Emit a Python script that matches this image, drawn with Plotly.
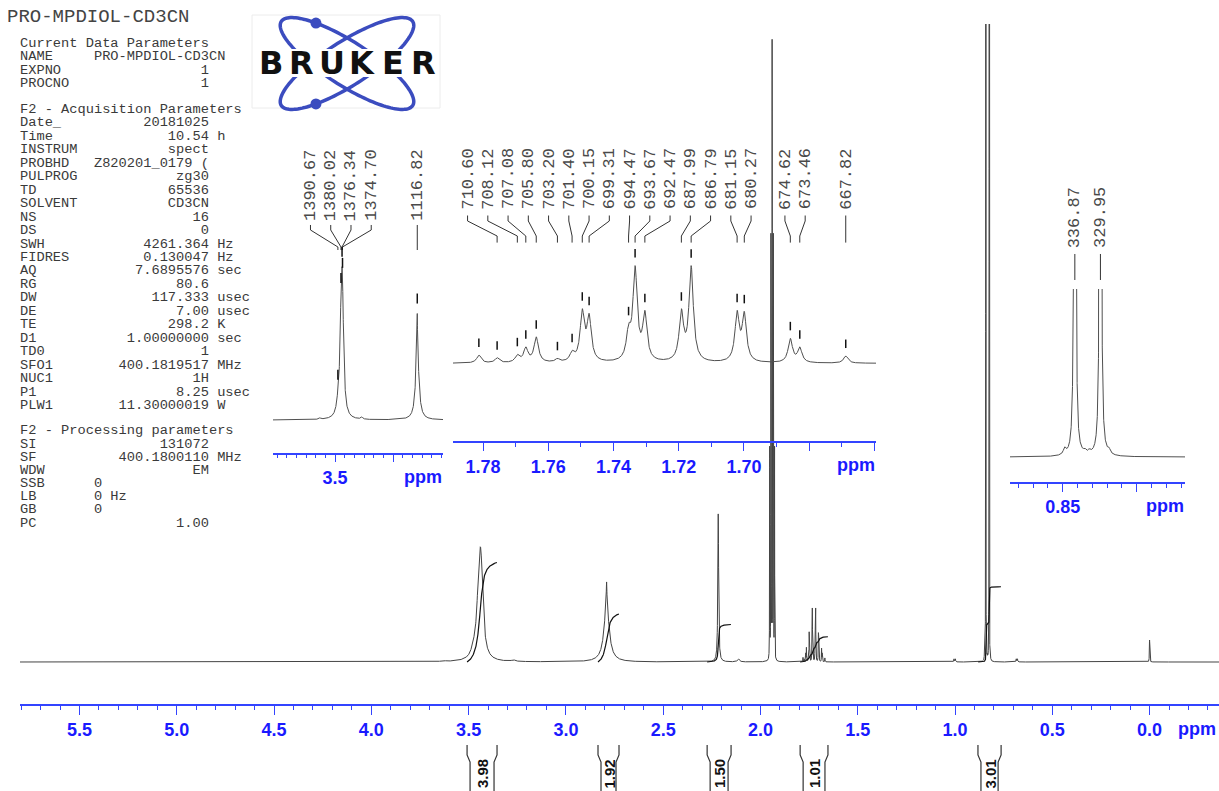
import numpy as np
import plotly.graph_objects as go

W, H = 1219, 791
BLUE = "#1a1aff"
AXBLUE = "#3344ff"
INK = "#3a3a3a"
NB = "\u00a0"

# ---------------- parameter text ----------------
TITLE = "PRO-MPDIOL-CD3CN"
CUR_HEAD = "Current Data Parameters"
CUR_LABELS = ["NAME", "EXPNO", "PROCNO"]
CUR_VALUES = ["PRO-MPDIOL-CD3CN", "1", "1"]
CUR_UNITS = ["", "", ""]
CUR_LEFT = [True, False, False]

ACQ_HEAD = "F2 - Acquisition Parameters"
ACQ_LABELS = ["Date_", "Time", "INSTRUM", "PROBHD", "PULPROG", "TD", "SOLVENT", "NS", "DS",
              "SWH", "FIDRES", "AQ", "RG", "DW", "DE", "TE", "D1", "TD0", "SFO1", "NUC1",
              "P1", "PLW1"]
ACQ_VALUES = ["20181025", "10.54", "spect", "Z820201_0179 (", "zg30", "65536", "CD3CN", "16",
              "0", "4261.364", "0.130047", "7.6895576", "80.6", "117.333", "7.00", "298.2",
              "1.00000000", "1", "400.1819517", "1H", "8.25", "11.30000019"]
ACQ_UNITS = ["", "h", "", "", "", "", "", "", "", "Hz", "Hz", "sec", "", "usec", "usec", "K",
             "sec", "", "MHz", "", "usec", "W"]

PROC_HEAD = "F2 - Processing parameters"
PROC_LABELS = ["SI", "SF", "WDW", "SSB", "LB", "GB", "PC"]
PROC_VALUES = ["131072", "400.1800110", "EM", "0", "0", "0", "1.00"]
PROC_UNITS = ["", "MHz", "", "", "Hz", "", ""]
PROC_LEFT = [False, False, False, True, True, True, False]

# ---------------- spectrum data ----------------
SF_MHZ = 400.18
# expansion A (3.4 / 2.8 ppm): labelled lines (Hz), amplitudes (main px), FWHM (ppm)
PEAKS_A_HZ = [1390.67, 1380.02, 1376.34, 1374.70, 1116.82]
PEAKS_A_AMP = [6, 43, 47.5, 43, 24]
PEAKS_A_FWHM = [0.03, 0.025, 0.025, 0.025, 0.004]

# expansion B (1.7 ppm multiplet): labelled lines (Hz) and observed tops in expansion px
PEAKS_B_HZ = [710.60, 708.12, 707.08, 705.80, 703.20, 701.40, 700.15, 699.31, 694.47, 693.67,
              692.47, 687.99, 686.79, 681.15, 680.27, 674.62, 673.46, 667.82]
PEAKS_B_TOP = [5.6, 9.0, 16.5, 26.5, 5.0, 13.0, 54.6, 50.0, 40.0, 97.7, 53.0, 54.6, 97.7,
               53.0, 52.0, 25.0, 16.5, 7.3]
MULT_EXTRA_PPM = [1.7813]
MULT_EXTRA_TOP = [8.3]
MULT_FWHM = 0.0016

# expansion C (0.84 ppm doublet)
PEAKS_C_HZ = [336.87, 329.95]
PEAKS_C_AMP = [2000, 2000]
PEAKS_C_FWHM = [0.0006, 0.0006]

# other lines of the full spectrum (ppm, amplitude in main px, FWHM ppm)
OTHER_PPM = [3.63, 3.27, 2.7908, 2.217, 2.113, 1.9525, 1.94625, 1.9400, 1.93375, 1.9275,
             1.005, 0.998, 0.8487, 0.8350, 0.8320, 0.8187, 0.685, 0.679, 0.0]
OTHER_AMP = [1.0, 1.5, 56, 148, 3, 210, 420, 614, 420, 210, 3, 3, 6, 3, 3, 4, 3, 3, 22]
OTHER_FWHM = [0.02, 0.02, 0.032, 0.005, 0.012, 0.0012, 0.0012, 0.0012, 0.0012, 0.0012,
              0.003, 0.003, 0.002, 0.002, 0.002, 0.002, 0.003, 0.003, 0.002]

# integrals
INT_VALUES = [3.98, 1.92, 1.50, 1.01, 3.01]
INT_FROM = [3.508, 2.835, 2.274, 1.796, 0.882]
INT_TO = [3.354, 2.727, 2.151, 1.653, 0.763]
INT_PX_PER_UNIT = 25.0

# ---------------- geometry (pixels) ----------------
MAIN = dict(x0=20, x1=W, p0=5.806, p1=-0.357, axis_y=705, base=662, top=24)
INS_A = dict(x0=273, x1=443, p0=4.0345, p1=2.569, axis_y=452.7, base=420, top=130, s=1.33,
             lab_bottom=222, lead=(225, 230, 247, 250), gap=10, mlen=10,
             tickvals=[3.5, 3.0], ticktext=["3.5", ""], mdt=0.5 / 6, mt0=3.0)
INS_B = dict(x0=453, x1=876, p0=1.78923, p1=1.65952, axis_y=441.3, base=363.4, top=130, s=1.81,
             lab_bottom=210.5, lead=(215.5, 221, 236, 242.6), gap=8, mlen=8.5,
             tickvals=[1.78, 1.76, 1.74, 1.72, 1.70, 1.68, 1.66],
             ticktext=["1.78", "1.76", "1.74", "1.72", "1.70", "", ""], mdt=0.01, mt0=0)
INS_C = dict(x0=1010, x1=1185, p0=0.8856, p1=0.76736, axis_y=482, base=457, top=289, s=1.0,
             lab_bottom=249, lead=(254, 259, 275, 280), gap=0, mlen=0,
             tickvals=[0.85, 0.80], ticktext=["0.85", ""], mdt=0.01, mt0=0)


def lor(x, pos, amp, fwhm):
    y = np.zeros_like(x, dtype=float)
    for p, a, w in zip(pos, amp, fwhm):
        g = w / 2.0
        y += a * g * g / ((x - p) ** 2 + g * g)
    return y


def solve_amps(pos, target, fwhm, iters=800):
    pos = np.asarray(pos, float)
    t = np.asarray(target, float)
    g = np.asarray(fwhm, float) / 2
    A = (g[None, :] ** 2) / ((pos[:, None] - pos[None, :]) ** 2 + g[None, :] ** 2)
    a = t.copy()
    for _ in range(iters):
        a = np.clip(a + 0.4 * (t - A @ a), 0, None)
    return a


# assemble all lines
a_ppm = [h / SF_MHZ for h in PEAKS_A_HZ]
b_ppm = [h / SF_MHZ for h in PEAKS_B_HZ]
c_ppm = [h / SF_MHZ for h in PEAKS_C_HZ]
mult_ppm = b_ppm + MULT_EXTRA_PPM
mult_top_main = [v / INS_B["s"] for v in PEAKS_B_TOP + MULT_EXTRA_TOP]
mult_fw = [MULT_FWHM] * len(mult_ppm)
mult_amp = list(solve_amps(mult_ppm, mult_top_main, mult_fw))

ALL_PPM = a_ppm + mult_ppm + c_ppm + OTHER_PPM
ALL_AMP = PEAKS_A_AMP + mult_amp + PEAKS_C_AMP + OTHER_AMP
ALL_FW = PEAKS_A_FWHM + mult_fw + PEAKS_C_FWHM + OTHER_FWHM


def spectrum(x):
    return lor(x, ALL_PPM, ALL_AMP, ALL_FW)


def make_grid(p0, p1, n):
    lo, hi = min(p0, p1), max(p0, p1)
    pts = [np.linspace(lo, hi, n)]
    for c, w in zip(ALL_PPM, ALL_FW):
        half = max(12 * w, 0.01)
        step = w / 8
        k = int(half / step)
        pts.append(c + step * np.arange(-k, k + 1))
    x = np.unique(np.concatenate(pts))
    x = x[(x >= lo) & (x <= hi)]
    return x[::-1]


def ppm2px(geo, p):
    return geo["x0"] + (p - geo["p0"]) / (geo["p1"] - geo["p0"]) * (geo["x1"] - geo["x0"])


def P(x, y):
    return x / W, 1 - y / H


def path_px(points, close=False):
    s = ""
    for i, (x, y) in enumerate(points):
        s += ("M" if i == 0 else "L") + f"{x / W:.5f},{1 - y / H:.5f} "
    return s.strip() + (" Z" if close else "")


def spread(ideal, gap):
    ideal = np.asarray(ideal, float)
    order = np.argsort(ideal)
    clusters = []
    for x in ideal[order]:
        clusters.append([x, 1])
        while len(clusters) > 1:
            s2, n2 = clusters[-1]
            s1, n1 = clusters[-2]
            r1 = s1 / n1 + (n1 - 1) / 2 * gap
            l2 = s2 / n2 - (n2 - 1) / 2 * gap
            if l2 - r1 < gap:
                clusters[-2:] = [[s1 + s2, n1 + n2]]
            else:
                break
    out = []
    for s, n in clusters:
        m = s / n
        out += [m + (k - (n - 1) / 2) * gap for k in range(n)]
    res = np.empty(len(ideal))
    res[order] = out
    return res


fig = go.Figure()
shapes = []
annotations = []

# ---------------- main spectrum ----------------
xm = make_grid(MAIN["p0"], MAIN["p1"], 5000)
ym = spectrum(xm)
fig.add_trace(go.Scatter(x=np.round(xm, 6), y=np.round(ym, 3), mode="lines",
                         line=dict(color="#444444", width=1), xaxis="x", yaxis="y",
                         hoverinfo="skip"))

# integrals
for val, f, t in zip(INT_VALUES, INT_FROM, INT_TO):
    m = (xm <= f) & (xm >= t)
    xs, ys = xm[m], ym[m]
    c = np.concatenate([[0], np.cumsum(0.5 * (ys[1:] + ys[:-1]) * np.abs(np.diff(xs)))])
    c = c / c[-1] * val * INT_PX_PER_UNIT
    fig.add_trace(go.Scatter(x=np.round(xs, 6), y=np.round(c, 3), mode="lines",
                             line=dict(color="#111111", width=1.2), xaxis="x", yaxis="y",
                             hoverinfo="skip"))
    lx, rx = ppm2px(MAIN, f), ppm2px(MAIN, t)
    shapes.append(dict(type="path", xref="paper", yref="paper",
                       path=path_px([(lx, 745), (lx, 755), (lx + 3, 762), (lx + 3, 792)]),
                       line=dict(color="#333", width=1.2)))
    shapes.append(dict(type="path", xref="paper", yref="paper",
                       path=path_px([(rx, 745), (rx, 755), (rx - 3, 762), (rx - 3, 792)]),
                       line=dict(color="#333", width=1.2)))
    x_, y_ = P((lx + rx) / 2, 774)
    annotations.append(dict(x=x_, y=y_, xref="paper", yref="paper", text=f"{val:.2f}",
                            textangle=-90, showarrow=False, xanchor="center", yanchor="middle",
                            borderpad=0,
                            font=dict(family="Liberation Sans", size=15, color="#111",
                                      weight="bold")))

# ---------------- insets ----------------
insets = [(INS_A, a_ppm, PEAKS_A_HZ, a_ppm, "2"),
          (INS_B, b_ppm, PEAKS_B_HZ, mult_ppm, "3"),
          (INS_C, c_ppm, PEAKS_C_HZ, [], "4")]

layout_axes = {}
for geo, lab_ppm, lab_hz, mark_ppm, k in insets:
    xi = make_grid(geo["p0"], geo["p1"], 3000)
    yi = spectrum(xi) * geo["s"]
    fig.add_trace(go.Scatter(x=np.round(xi, 7), y=np.round(yi, 3), mode="lines",
                             line=dict(color="#505050", width=1), xaxis="x" + k, yaxis="y" + k,
                             hoverinfo="skip"))
    layout_axes["xaxis" + k] = dict(
        domain=[geo["x0"] / W, geo["x1"] / W], range=[geo["p0"], geo["p1"]], anchor="y" + k,
        showline=True, linecolor=AXBLUE, linewidth=1.5, ticks="outside", ticklen=8,
        tickwidth=1.3, tickcolor=AXBLUE, tickvals=geo["tickvals"], ticktext=geo["ticktext"],
        tickfont=dict(family="Liberation Sans", size=18, color=BLUE, weight="bold"),
        minor=dict(dtick=geo["mdt"], tick0=geo["mt0"], ticks="outside", ticklen=4,
                   tickcolor=AXBLUE, tickwidth=1),
        showgrid=False, zeroline=False, fixedrange=True)
    layout_axes["yaxis" + k] = dict(
        domain=[1 - geo["axis_y"] / H, 1 - geo["top"] / H],
        range=[-(geo["axis_y"] - geo["base"]), geo["base"] - geo["top"]],
        anchor="x" + k, visible=False, fixedrange=True)
    # "ppm" unit label
    ux, uy = P(geo["x1"] + 1, geo["axis_y"] + 24)
    annotations.append(dict(x=ux, y=uy, xref="paper", yref="paper", text="ppm",
                            showarrow=False, xanchor="right", yanchor="middle",
                            font=dict(family="Liberation Sans", size=18, color=BLUE,
                                      weight="bold")))
    # peak labels with leader lines
    pk_px = np.array([ppm2px(geo, p) for p in lab_ppm])
    lab_px = spread(pk_px, 20.25)
    y0, y1, y2, y3 = geo["lead"]
    for hz, px_, lx in zip(lab_hz, pk_px, lab_px):
        shapes.append(dict(type="path", xref="paper", yref="paper",
                           path=path_px([(lx, y0), (lx, y1), (px_, y2), (px_, y3)]),
                           line=dict(color="#333", width=1)))
        ax_, ay_ = P(lx, geo["lab_bottom"])
        annotations.append(dict(x=ax_, y=ay_, xref="paper", yref="paper", text=f"{hz:.2f}",
                                textangle=-90, showarrow=False, xanchor="center",
                                yanchor="bottom", borderpad=0,
                                font=dict(family="Liberation Mono", size=17, color="#4a4a4a")))
    # peak markers
    for p in mark_ppm:
        v = float(spectrum(np.array([p]))[0]) * geo["s"]
        px_ = ppm2px(geo, p)
        yb = geo["base"] - v - geo["gap"]
        shapes.append(dict(type="line", xref="paper", yref="paper",
                           x0=px_ / W, x1=px_ / W, y0=1 - yb / H, y1=1 - (yb - geo["mlen"]) / H,
                           line=dict(color="#111", width=1.5)))

# main unit label
ux, uy = P(1218, 729)
annotations.append(dict(x=ux, y=uy, xref="paper", yref="paper", text="ppm", showarrow=False,
                        xanchor="right", yanchor="middle",
                        font=dict(family="Liberation Sans", size=18, color=BLUE, weight="bold")))

# ---------------- parameter text ----------------
def param_line(label, value, unit, left):
    if left:
        s = label + NB * (9 - len(label)) + value
    else:
        s = label + NB * max(1, 23 - len(label) - len(value)) + value
    if unit:
        s += NB + unit
    return s


def add_text(x, y, text, size=13.7, color=INK):
    ax_, ay_ = P(x, y)
    annotations.append(dict(x=ax_, y=ay_, xref="paper", yref="paper", text=text,
                            showarrow=False, xanchor="left", yanchor="middle", borderpad=0,
                            font=dict(family="Liberation Mono", size=size, color=color)))


add_text(6, 17, TITLE, size=19, color="#444")
add_text(19, 43, CUR_HEAD)
for i, (l, v, u, lf) in enumerate(zip(CUR_LABELS, CUR_VALUES, CUR_UNITS, CUR_LEFT)):
    add_text(19, 56.5 + 13.5 * i, param_line(l, v, u, lf))
add_text(19, 109.5, ACQ_HEAD)
for i, (l, v, u) in enumerate(zip(ACQ_LABELS, ACQ_VALUES, ACQ_UNITS)):
    add_text(19, 123 + 13.45 * i, param_line(l, v, u, False))
add_text(19, 430.5, PROC_HEAD)
for i, (l, v, u, lf) in enumerate(zip(PROC_LABELS, PROC_VALUES, PROC_UNITS, PROC_LEFT)):
    add_text(19, 444 + 13.2 * i, param_line(l, v, u, lf))

# ---------------- Bruker logo ----------------
LOGO_BLUE = "#3b4cbf"
cx, cy, ea, eb, th = 347, 63.5, 78, 22, np.deg2rad(32.6)
tt = np.linspace(0, 2 * np.pi, 140)
shapes.append(dict(type="rect", xref="paper", yref="paper", x0=252 / W, x1=440 / W,
                   y0=1 - 108 / H, y1=1 - 15 / H, line=dict(color="#ececec", width=1)))
for sgn in (1, -1):
    ang = sgn * th
    ex = cx + ea * np.cos(tt) * np.cos(ang) - eb * np.sin(tt) * np.sin(ang)
    ey = cy + ea * np.cos(tt) * np.sin(ang) + eb * np.sin(tt) * np.cos(ang)
    shapes.append(dict(type="path", xref="paper", yref="paper",
                       path=path_px(list(zip(ex, ey)), close=True),
                       line=dict(color=LOGO_BLUE, width=3.5)))
shapes.append(dict(type="rect", xref="paper", yref="paper", x0=254 / W, x1=439 / W,
                   y0=1 - 77 / H, y1=1 - 49 / H, fillcolor="white", line=dict(width=0)))
t_dot = 4.05
dx = cx + ea * np.cos(t_dot) * np.cos(th) - eb * np.sin(t_dot) * np.sin(th)
dy = cy + ea * np.cos(t_dot) * np.sin(th) + eb * np.sin(t_dot) * np.cos(th)
for (px_, py_) in [(dx, dy), (dx, 2 * cy - dy)]:
    shapes.append(dict(type="circle", xref="paper", yref="paper",
                       x0=(px_ - 5.5) / W, x1=(px_ + 5.5) / W,
                       y0=1 - (py_ + 5.5) / H, y1=1 - (py_ - 5.5) / H,
                       fillcolor=LOGO_BLUE, line=dict(width=0)))
for i, ch in enumerate("BRUKER"):
    ax_, ay_ = P(270.5 + 30.5 * i, 63.5)
    annotations.append(dict(x=ax_, y=ay_, xref="paper", yref="paper", text=ch,
                            showarrow=False, xanchor="center", yanchor="middle",
                            font=dict(family="DejaVu Sans", size=32, color="#111",
                                      weight="bold")))

# ---------------- layout ----------------
fig.update_layout(
    width=W, height=H, margin=dict(l=0, r=0, t=0, b=0),
    paper_bgcolor="white", plot_bgcolor="rgba(0,0,0,0)", showlegend=False,
    xaxis=dict(domain=[MAIN["x0"] / W, 1], range=[MAIN["p0"], MAIN["p1"]], anchor="free",
               position=1 - MAIN["axis_y"] / H, showline=True, linecolor=AXBLUE, linewidth=1.5,
               ticks="outside", ticklen=9, tickwidth=1.3, tickcolor=AXBLUE, tick0=0, dtick=0.5,
               tickformat=".1f",
               tickfont=dict(family="Liberation Sans", size=18, color=BLUE, weight="bold"),
               minor=dict(dtick=0.1, tick0=0, ticks="outside", ticklen=4, tickcolor=AXBLUE,
                          tickwidth=1),
               showgrid=False, zeroline=False, fixedrange=True),
    yaxis=dict(domain=[0, 1 - MAIN["top"] / H],
               range=[-(H - MAIN["base"]), MAIN["base"] - MAIN["top"]],
               visible=False, fixedrange=True),
    shapes=shapes, annotations=annotations,
    **layout_axes,
)

fig.write_html("out.html", config={"displayModeBar": False},
               post_script="document.body.style.margin='0px';document.body.style.padding='0px';"
                           "document.body.style.overflow='hidden';")
